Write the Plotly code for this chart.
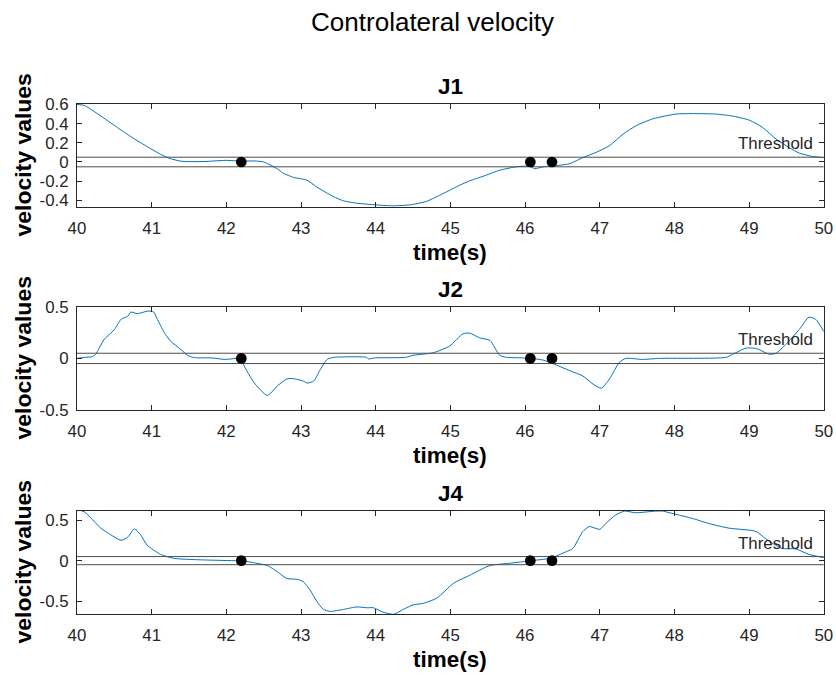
import plotly.graph_objects as go

# ---------------- data ----------------
T_RANGE = [40, 50]
THRESHOLD = 0.05
EVENT_TIMES = [42.2, 46.07, 46.36]
X_TICKS = [40, 41, 42, 43, 44, 45, 46, 47, 48, 49, 50]

j1_t = [40.0, 40.1, 40.3, 40.54, 40.77, 40.99, 41.12, 41.25, 41.41, 41.7, 41.99, 42.2, 42.4, 42.5,
        42.57, 42.68, 42.77, 42.9, 43.08, 43.21, 43.43, 43.57, 43.75, 44.0, 44.22, 44.46, 44.68,
        44.9, 45.13, 45.26, 45.44, 45.66, 45.88, 46.06, 46.13, 46.24, 46.46, 46.6, 46.77, 46.95,
        47.13, 47.31, 47.49, 47.71, 48.02, 48.24, 48.55, 48.77, 49.0, 49.18, 49.36, 49.54, 49.67,
        49.84, 50.0]
j1_v = [0.60, 0.59, 0.49, 0.36, 0.24, 0.138, 0.08, 0.035, 0.007, 0.005, 0.017, 0.01, 0.01, 0.0,
        -0.024, -0.07, -0.12, -0.16, -0.19, -0.26, -0.36, -0.405, -0.43, -0.447, -0.457, -0.447, -0.41,
        -0.33, -0.24, -0.196, -0.148, -0.086, -0.05, -0.045, -0.07, -0.05, -0.034, -0.017, 0.045, 0.10,
        0.17, 0.29, 0.38, 0.45, 0.50, 0.505, 0.50, 0.48, 0.437, 0.36, 0.24, 0.148, 0.093,
        0.059, 0.045]

j2_t = [40.0, 40.1, 40.2, 40.25, 40.36, 40.5, 40.59, 40.68, 40.72, 40.81, 40.95, 41.03, 41.07, 41.17,
        41.25, 41.39, 41.48, 41.57, 41.8, 41.98, 42.13, 42.2, 42.23, 42.37, 42.55, 42.68, 42.81, 42.9,
        43.03, 43.08, 43.17, 43.26, 43.35, 43.44, 43.88, 43.9, 44.0, 44.4, 44.5, 44.77, 44.99, 45.17,
        45.26, 45.39, 45.53, 45.66, 45.75, 45.97, 46.08, 46.24, 46.37, 46.6, 46.77, 46.91, 47.02,
        47.13, 47.26, 47.35, 47.57, 47.8, 48.69, 48.78, 48.96, 49.1, 49.27, 49.36, 49.49, 49.67,
        49.8, 49.89, 50.0]
j2_v = [0.0, 0.01, 0.016, 0.04, 0.18, 0.28, 0.38, 0.41, 0.45, 0.435, 0.46, 0.45, 0.39, 0.25,
        0.17, 0.087, 0.03, 0.007, 0.005, -0.01, 0.0, 0.0, -0.06, -0.235, -0.36, -0.27, -0.2, -0.197,
        -0.22, -0.24, -0.22, -0.106, -0.01, 0.01, 0.01, -0.005, 0.005, 0.01, 0.03, 0.055, 0.12, 0.24,
        0.245, 0.2, 0.174, 0.03, 0.01, 0.005, 0.0, -0.016, -0.05, -0.12, -0.17, -0.25, -0.29,
        -0.2, -0.04, 0.0, -0.01, 0.0, 0.01, 0.04, 0.10, 0.095, 0.04, 0.05, 0.135, 0.28,
        0.40, 0.38, 0.26]

j4_t = [40.0, 40.1, 40.32, 40.45, 40.59, 40.68, 40.77, 40.85, 40.94, 41.12, 41.3, 41.65, 42.1, 42.2,
        42.41, 42.55, 42.68, 42.81, 42.95, 43.03, 43.12, 43.21, 43.3, 43.39, 43.57, 43.75, 43.88,
        43.97, 44.1, 44.24, 44.37, 44.5, 44.64, 44.82, 45.04, 45.26, 45.53, 45.79, 46.08, 46.33,
        46.55, 46.64, 46.77, 46.86, 47.0, 47.08, 47.21, 47.33, 47.48, 47.75, 47.84, 48.02, 48.24,
        48.46, 48.73, 49.09, 49.22, 49.44, 49.62, 49.8, 50.0]
j4_v = [0.63, 0.60, 0.40, 0.32, 0.25, 0.29, 0.39, 0.32, 0.19, 0.077, 0.028, 0.01, 0.0, 0.0,
        -0.033, -0.06, -0.135, -0.22, -0.23, -0.26, -0.36, -0.5, -0.6, -0.625, -0.6, -0.57, -0.58,
        -0.58, -0.635, -0.66, -0.6, -0.545, -0.525, -0.46, -0.28, -0.18, -0.06, -0.033, 0.0, 0.028,
        0.11, 0.15, 0.355, 0.42, 0.385, 0.457, 0.56, 0.61, 0.59, 0.61, 0.61, 0.57, 0.52,
        0.457, 0.40, 0.36, 0.27, 0.15, 0.145, 0.077, 0.037]

panels = [
    {"name": "J1", "t": j1_t, "v": j1_v, "yrange": [-0.468, 0.605],
     "yticks": [-0.4, -0.2, 0, 0.2, 0.4, 0.6], "yticktext": ["-0.4", "-0.2", "0", "0.2", "0.4", "0.6"]},
    {"name": "J2", "t": j2_t, "v": j2_v, "yrange": [-0.5, 0.5],
     "yticks": [-0.5, 0, 0.5], "yticktext": ["-0.5", "0", "0.5"]},
    {"name": "J4", "t": j4_t, "v": j4_v, "yrange": [-0.658, 0.616],
     "yticks": [-0.5, 0, 0.5], "yticktext": ["-0.5", "0", "0.5"]},
]

# ---------------- layout geometry ----------------
# Target positions are given in screenshot pixels; the page adds an 8 px body margin
# around the figure and the photo of the whole page is fitted back into 836x675.
W, H = 836, 675
MARGIN = 8
SX, SY = W / (W + 2 * MARGIN), H / (H + 2 * MARGIN)
FS = 2 / (SX + SY)                 # size compensation factor

PLOT_L, PLOT_R = 76, 825
PANEL_TB = [(103.3, 206.7), (307.3, 410.7), (512.0, 616.0)]


def px(xs):
    return (xs / SX - MARGIN) / W


def py(ys):
    return 1 - (ys / SY - MARGIN) / H


FONT = "Liberation Sans, Arial, Helvetica, sans-serif"
AX_COLOR = "#262626"
LINE_COLOR = "#0072BD"

fig = go.Figure()
annotations = []
layout = {}

for i, p in enumerate(panels):
    k = "" if i == 0 else str(i + 1)
    xa, ya = "x" + k, "y" + k
    top, bot = PANEL_TB[i]
    fig.add_trace(go.Scatter(x=p["t"], y=p["v"], mode="lines", xaxis=xa, yaxis=ya,
                             line=dict(color=LINE_COLOR, width=1, shape="spline", smoothing=0.6),
                             showlegend=False, hoverinfo="x+y"))
    for s in (1, -1):
        fig.add_trace(go.Scatter(x=T_RANGE, y=[s * THRESHOLD, s * THRESHOLD], mode="lines",
                                 xaxis=xa, yaxis=ya, line=dict(color="#4d4d4d", width=1),
                                 showlegend=False, hoverinfo="skip"))
    fig.add_trace(go.Scatter(x=EVENT_TIMES, y=[0] * len(EVENT_TIMES), mode="markers",
                             xaxis=xa, yaxis=ya, marker=dict(color="black", size=10.5 * FS),
                             showlegend=False))

    common = dict(showline=True, linecolor=AX_COLOR, linewidth=1, mirror="ticks",
                  ticks="inside", ticklen=5 * FS, tickcolor=AX_COLOR, tickwidth=1,
                  showgrid=False, zeroline=False, ticklabeloverflow="allow",
                  tickfont=dict(family=FONT, size=16.5 * FS, color=AX_COLOR))
    layout["xaxis" + k] = dict(common, domain=[px(PLOT_L), px(PLOT_R)], range=T_RANGE,
                               tickvals=X_TICKS, anchor=ya, ticklabelstandoff=6)
    layout["yaxis" + k] = dict(common, domain=[py(bot), py(top)], range=p["yrange"],
                               tickvals=p["yticks"], ticktext=p["yticktext"], anchor=xa,
                               ticklabelstandoff=4)

    cx = px((PLOT_L + PLOT_R) / 2)
    annotations.append(dict(text="<b>" + p["name"] + "</b>", xref="paper", yref="paper",
                            x=cx, y=py(top - 17.5), xanchor="center", yanchor="middle",
                            showarrow=False, font=dict(family=FONT, size=22 * FS, color="black")))
    annotations.append(dict(text="<b>time(s)</b>", xref="paper", yref="paper",
                            x=cx, y=py(bot + 45.5), xanchor="center", yanchor="middle",
                            showarrow=False, font=dict(family=FONT, size=22 * FS, color="black")))
    annotations.append(dict(text="<b>velocity values</b>", xref="paper", yref="paper",
                            x=px(22), y=py((top + bot) / 2), xanchor="center", yanchor="middle",
                            textangle=-90, showarrow=False,
                            font=dict(family=FONT, size=22.5 * FS, color="black")))
    annotations.append(dict(text="Threshold", xref=xa, yref=ya, x=T_RANGE[1], y=THRESHOLD,
                            xanchor="right", yanchor="bottom", xshift=-9 * FS, yshift=2 * FS,
                            showarrow=False, font=dict(family=FONT, size=16.5 * FS, color=AX_COLOR)))

annotations.append(dict(text="Controlateral velocity", xref="paper", yref="paper",
                        x=px(433), y=py(21), xanchor="center", yanchor="middle",
                        showarrow=False, font=dict(family=FONT, size=25.5 * FS, color="black")))

fig.update_layout(width=W, height=H, margin=dict(l=0, r=0, t=0, b=0),
                  paper_bgcolor="white", plot_bgcolor="white",
                  annotations=annotations, showlegend=False, **layout)

fig.write_html("out.html")
